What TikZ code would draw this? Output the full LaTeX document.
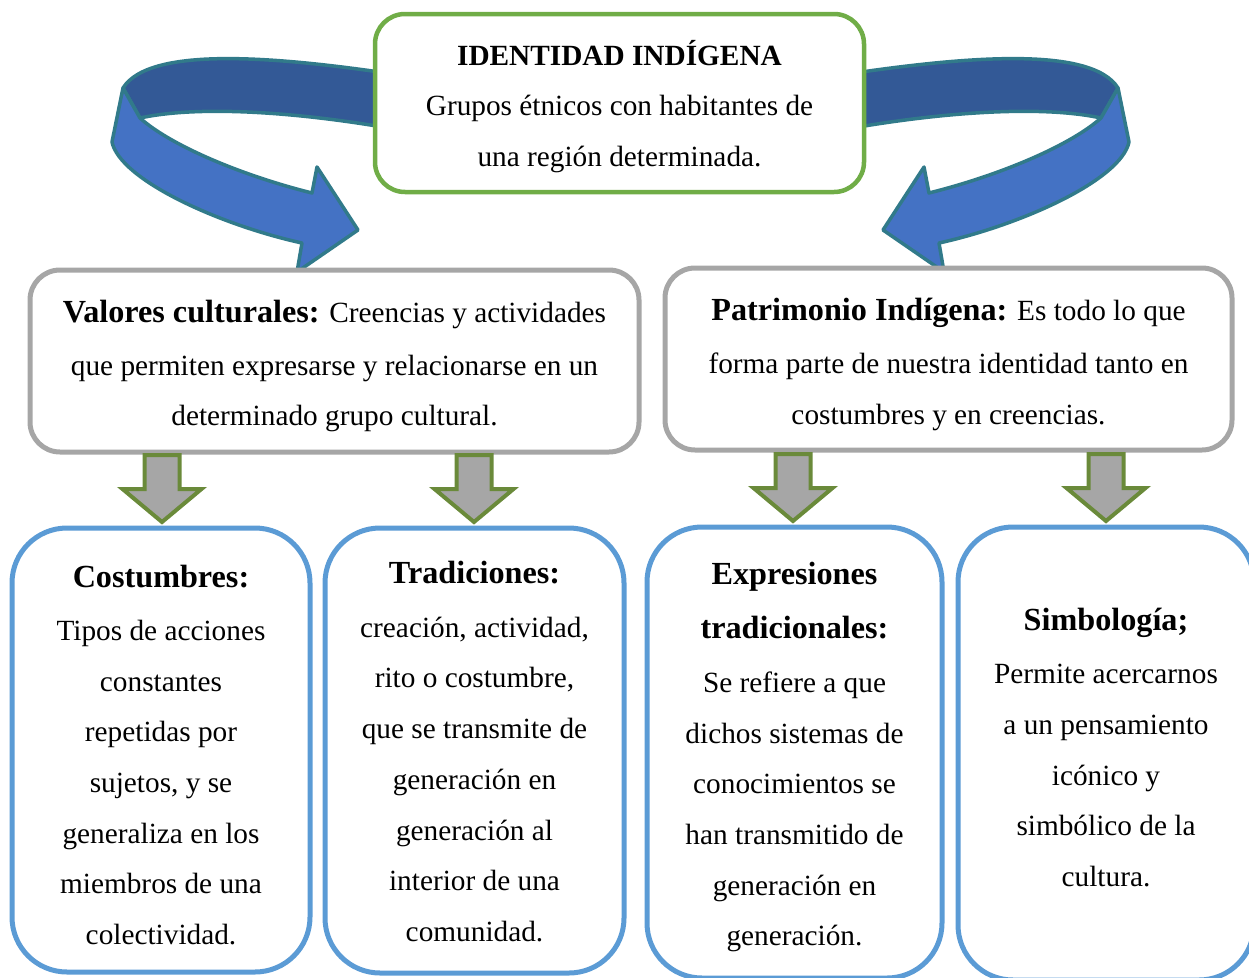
\documentclass[tikz,border=0pt]{standalone}
\usepackage{fontspec}
\setmainfont{Liberation Serif}
\usetikzlibrary{positioning,calc}

\definecolor{ribbondark}{RGB}{51,89,150}
\definecolor{ribbonlight}{RGB}{68,114,196}
\definecolor{ribbonedge}{RGB}{49,122,138}
\definecolor{greenedge}{RGB}{112,173,71}
\definecolor{grayedge}{RGB}{166,166,166}
\definecolor{blueedge}{RGB}{91,155,213}
\definecolor{oliveedge}{RGB}{106,138,58}

\newcommand\hd[1]{{\fontsize{32.2}{50.7}\selectfont\bfseries #1}}

\tikzset{
 box/.style={draw, fill=white, rounded corners=30pt, inner sep=0pt},
 topbox/.style={box, draw=greenedge, line width=4.5pt},
 midbox/.style={box, draw=grayedge, line width=5pt},
 lowbox/.style={box, draw=blueedge, line width=5pt, rounded corners=55pt},
 boxtext/.style={inner sep=0pt, align=center, font=\fontsize{29.3}{50.7}\selectfont},
 downarr/.style={draw=oliveedge, fill=grayedge, line width=4pt, line join=miter},
 ribbonback/.style={draw=ribbonedge, fill=ribbondark, line width=3.5pt, line join=round},
 ribbonfront/.style={draw=ribbonedge, fill=ribbonlight, line width=3.5pt, line join=round},
 pics/dnarrow/.style={code={
  \draw[downarr] (0,0) -- (17.5,0) -- (17.5,34) -- (39.5,34) -- (0,67)
    -- (-39.5,34) -- (-17.5,34) -- (-17.5,0) -- cycle;}}
}

% folded ribbon arrow, left side
\newcommand\foldarrow{
 \draw[ribbonback] (400,75) .. controls (280,57) and (150,45) .. (123,88)
   -- (140,118) .. controls (200,105) and (300,112) .. (400,130) -- cycle;
 \draw[ribbonfront] (123,88) -- (112,142) .. controls (120,180) and (220,225) .. (302,243)
   -- (297,272) -- (358,230) -- (317,167) -- (312,193)
   .. controls (240,175) and (170,145) .. (140,118) -- cycle;
}

\begin{document}
\begin{tikzpicture}[x=1pt, y=-1pt]
 \useasboundingbox (0,0) rectangle (1249,977);
 \clip (0,0) rectangle (1249,977);

 \foldarrow
 \begin{scope}[xshift=1241pt, xscale=-1]
  \foldarrow
 \end{scope}

 % boxes
 \node[topbox, minimum width=489pt, minimum height=178pt] (identidad) at (619.5,103) {};
 \node[midbox, minimum width=609pt, minimum height=182pt] (valores) at (334.5,361) {};
 \node[midbox, minimum width=567pt, minimum height=182pt] (patrimonio) at (948.5,359) {};
 \node[lowbox, minimum width=298pt, minimum height=444pt] (costumbres) at (161,750) {};
 \node[lowbox, minimum width=299pt, minimum height=445pt] (tradiciones) at (474.5,750.5) {};
 \node[lowbox, minimum width=295pt, minimum height=451pt] (expresiones) at (794.5,752.5) {};
 \node[lowbox, minimum width=296pt, minimum height=453pt] (simbologia) at (1106,753.5) {};

 % texts
 \node[boxtext] (identidadtxt) at (619.5,106.5)
  {\textbf{IDENTIDAD INDÍGENA}\\ Grupos étnicos con habitantes de\\ una región determinada.};
 \node[boxtext] (valorestxt) at (334.5,366)
  {\hd{Valores culturales:} Creencias y actividades\\[2pt] que permiten expresarse y relacionarse en un\\ determinado grupo cultural.};
 \node[boxtext] (patrimoniotxt) at (948.5,364.5)
  {\hd{Patrimonio Indígena:} Es todo lo que\\[2pt] forma parte de nuestra identidad tanto en\\ costumbres y en creencias.};
 \node[boxtext] (costumbrestxt) at (161,755)
  {\hd{Costumbres:}\\[2.5pt] Tipos de acciones\\ constantes\\ repetidas por\\ sujetos, y se\\ generaliza en los\\ miembros de una\\ colectividad.};
 \node[boxtext] (tradicionestxt) at (474.5,751.5)
  {\hd{Tradiciones:}\\[3pt] creación, actividad,\\ rito o costumbre,\\ que se transmite de\\ generación en\\ generación al\\ interior de una\\ comunidad.};
 \node[boxtext] (expresionestxt) at (794.5,757)
  {\hd{Expresiones}\\[4pt] \hd{tradicionales:}\\[3pt] Se refiere a que\\ dichos sistemas de\\ conocimientos se\\ han transmitido de\\ generación en\\ generación.};
 \node[boxtext] (simbologiatxt) at (1106,747.5)
  {\hd{Simbología;}\\[2.5pt] Permite acercarnos\\ a un pensamiento\\ icónico y\\ simbólico de la\\ cultura.};

 % arrows between the rows
 \pic at (162,455) {dnarrow};
 \pic at (474,455) {dnarrow};
 \pic at (793,454) {dnarrow};
 \pic at (1106,454) {dnarrow};
\end{tikzpicture}
\end{document}
